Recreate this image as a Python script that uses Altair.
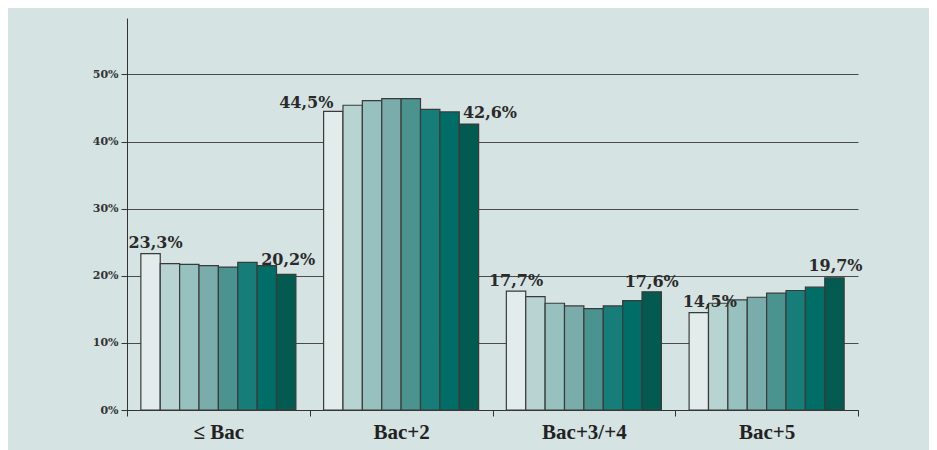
import altair as alt
import pandas as pd

groups = ["≤ Bac", "Bac+2", "Bac+3/+4", "Bac+5"]
series = ["Série 1", "Série 2", "Série 3", "Série 4", "Série 5", "Série 6", "Série 7", "Série 8"]
v_bac = [23.3, 21.8, 21.7, 21.5, 21.3, 22.0, 21.5, 20.2]
v_bac2 = [44.5, 45.4, 46.1, 46.4, 46.4, 44.8, 44.4, 42.6]
v_bac34 = [17.7, 16.9, 15.9, 15.5, 15.1, 15.5, 16.3, 17.6]
v_bac5 = [14.5, 15.9, 16.4, 16.8, 17.4, 17.8, 18.3, 19.7]
colors = ["#e2edeb", "#b8d4d2", "#96c1bf", "#79acaa", "#4a938f", "#177d78", "#006d66", "#035a50"]
y_ticks = [0, 10, 20, 30, 40, 50]

rows = []
for g, vals in zip(groups, [v_bac, v_bac2, v_bac34, v_bac5]):
    for s, v in zip(series, vals):
        rows.append({"groupe": g, "serie": s, "valeur": v,
                     "label": f"{v:.1f}".replace(".", ",") + "%"})
df = pd.DataFrame(rows)

BG = "#d6e3e3"

x = alt.X("groupe:N", sort=groups,
          scale=alt.Scale(paddingInner=0, paddingOuter=0),
          axis=alt.Axis(title=None, labelAngle=0, tickBand="extent",
                        labelFont="Liberation Sans Narrow", labelFontWeight="bold",
                        labelFontSize=21, labelColor="#222", labelPadding=5,
                        tickSize=6, tickColor="#333", domainColor="#333",
                        grid=False))
y = alt.Y("valeur:Q",
          scale=alt.Scale(domain=[0, 58.4], nice=False, zero=True),
          axis=alt.Axis(title=None, values=y_ticks, labelExpr="datum.value + '%'",
                        labelFont="DejaVu Serif", labelFontWeight="bold",
                        labelFontSize=11, labelColor="#333", labelPadding=3,
                        tickSize=6, tickColor="#333", domainColor="#333",
                        grid=True, gridColor="#4a4a4a", gridWidth=1))
xo = alt.XOffset("serie:N", sort=series,
                 scale=alt.Scale(paddingOuter=0.715, paddingInner=0))

base = alt.Chart(df)

bars = base.mark_bar(stroke="#3a3a3a", strokeWidth=1.2).encode(
    x=x, y=y, xOffset=xo,
    color=alt.Color("serie:N", sort=series,
                    scale=alt.Scale(domain=series, range=colors), legend=None),
)

# label placement tweaks (group index, series index, dx, dy)
label_specs = [
    (0, 0, 5, -6), (0, 7, 2, -9),
    (1, 0, -27, -3), (1, 7, 21, -6),
    (2, 0, 0, -5), (2, 7, 0, -5),
    (3, 0, 11, -6), (3, 7, 1, -7),
]
layers = [bars]
for gi, si, dx, dy in label_specs:
    t = base.transform_filter(
        (alt.datum.groupe == groups[gi]) & (alt.datum.serie == series[si])
    ).mark_text(font="DejaVu Serif", fontWeight="bold", fontSize=16,
                color="#2a2a2a", baseline="alphabetic", align="center",
                dx=dx, dy=dy).encode(x=x, y=y, xOffset=xo, text="label:N")
    layers.append(t)

chart = alt.layer(*layers).properties(
    width=731, height=392,
    padding={"left": 119, "top": 10, "right": 71, "bottom": 42},
    autosize=alt.AutoSizeParams(type="none"),
    background=BG,
).configure_view(stroke=None)

chart.save("out.html", embed_options={"renderer": "svg", "actions": False})
